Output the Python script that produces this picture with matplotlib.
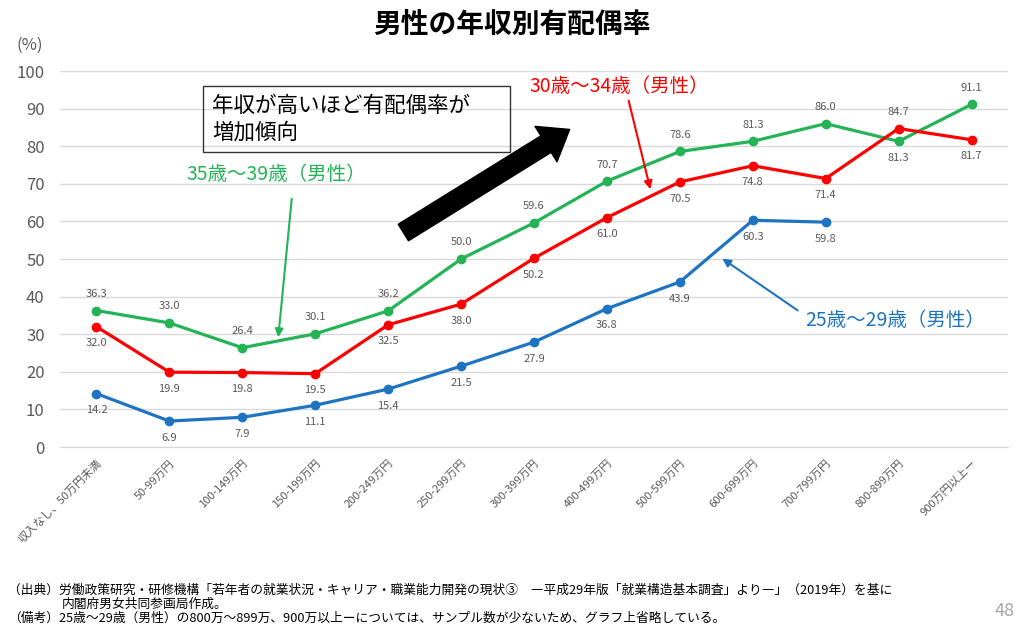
import matplotlib
matplotlib.use("Agg")
import matplotlib.pyplot as plt
from matplotlib.patches import Rectangle

plt.rcParams['font.family'] = ['Noto Sans CJK JP', 'DejaVu Sans']

# categories and values
categories = ["収入なし、50万円未満", "50-99万円", "100-149万円", "150-199万円",
              "200-249万円", "250-299万円", "300-399万円", "400-499万円",
              "500-599万円", "600-699万円", "700-799万円", "800-899万円",
              "900万円以上ー"]
age35_39 = [36.3, 33.0, 26.4, 30.1, 36.2, 50.0, 59.6, 70.7, 78.6, 81.3, 86.0, 81.3, 91.1]
age30_34 = [32.0, 19.9, 19.8, 19.5, 32.5, 38.0, 50.2, 61.0, 70.5, 74.8, 71.4, 84.7, 81.7]
age25_29 = [14.2, 6.9, 7.9, 11.1, 15.4, 21.5, 27.9, 36.8, 43.9, 60.3, 59.8]

GREEN = "#24b356"
RED = "#ff0000"
BLUE = "#1f74c1"
GRAY = "#595959"

W, H = 1024, 627
fig = plt.figure(figsize=(W / 100, H / 100), dpi=100)
ax = fig.add_axes([60 / W, 1 - 447 / H, (1008 - 60) / W, (447 - 71) / H])

x = list(range(len(categories)))

# label side: +1 above, -1 below
green_side = [1] * 13
green_side[11] = -1
red_side = [-1] * 13
red_side[11] = 1
blue_side = [-1] * 11

series = [
    (age35_39, GREEN, green_side),
    (age30_34, RED, red_side),
    (age25_29, BLUE, blue_side),
]
for vals, col, side in series:
    xs = x[:len(vals)]
    ax.plot(xs, vals, color=col, linewidth=2.3, marker="o", markersize=6, zorder=3)
    for xi, v, s in zip(xs, vals, side):
        ax.annotate(f"{v:.1f}", (xi, v), xytext=(0, 12 * s), textcoords="offset points",
                    ha="center", va="center", fontsize=8, color=GRAY)

ax.set_xlim(-0.5, 12.5)
ax.set_ylim(0, 100)
ax.set_yticks(range(0, 101, 10))
ax.grid(axis="y", color="#d9d9d9", linewidth=1)
ax.set_axisbelow(True)
for sp in ["top", "right", "left"]:
    ax.spines[sp].set_visible(False)
ax.spines["bottom"].set_color("#d9d9d9")
ax.tick_params(axis="y", length=0, labelsize=12, labelcolor=GRAY, pad=11)
ax.tick_params(axis="x", length=0, labelsize=8, labelcolor=GRAY, pad=8)
ax.set_xticks(x)
ax.set_xticklabels(categories, rotation=45, ha="right", rotation_mode="anchor")

fig.text(30 / W, 1 - 45 / H, "(%)", fontsize=12, color=GRAY, ha="center", va="center")

# title
fig.text(512 / W, 1 - 25 / H, "男性の年収別有配偶率", fontsize=20, fontweight="bold",
         ha="center", va="center")

# message box
fig.patches.append(Rectangle((203 / W, 1 - 152 / H), (510 - 203) / W, (152 - 86) / H,
                             transform=fig.transFigure, fill=False, edgecolor="#333333",
                             linewidth=1))
fig.text(212 / W, 1 - 119 / H, "年収が高いほど有配偶率が\n増加傾向", fontsize=15.5,
         ha="left", va="center", linespacing=1.3)

# big black arrow
ax.annotate("", xy=(572, H - 128), xytext=(401, H - 234),
            xycoords="figure pixels", textcoords="figure pixels",
            arrowprops=dict(arrowstyle="simple,head_length=1.0,head_width=1.5,tail_width=0.7",
                            mutation_scale=20, fc="black", ec="black"))

# series callouts
fig.text(276 / W, 1 - 175 / H, "35歳～39歳（男性）", fontsize=14, color=GREEN,
         ha="center", va="center")
ax.annotate("", xy=(278, H - 340), xytext=(292, H - 196),
            xycoords="figure pixels", textcoords="figure pixels",
            arrowprops=dict(arrowstyle="-|>", color=GREEN, lw=1.5, mutation_scale=12))

fig.text(619 / W, 1 - 87 / H, "30歳～34歳（男性）", fontsize=14, color=RED,
         ha="center", va="center")
ax.annotate("", xy=(651, H - 192), xytext=(628, H - 98),
            xycoords="figure pixels", textcoords="figure pixels",
            arrowprops=dict(arrowstyle="-|>", color=RED, lw=1.5, mutation_scale=12))

fig.text(895 / W, 1 - 320 / H, "25歳～29歳（男性）", fontsize=14, color=BLUE,
         ha="center", va="center")
ax.annotate("", xy=(720, H - 257), xytext=(800, H - 312),
            xycoords="figure pixels", textcoords="figure pixels",
            arrowprops=dict(arrowstyle="-|>", color=BLUE, lw=1.5, mutation_scale=12))

# footnotes
fig.text(8 / W, 1 - 590 / H,
         "（出典）労働政策研究・研修機構「若年者の就業状況・キャリア・職業能力開発の現状③　―平成29年版「就業構造基本調査」より―」（2019年）を基に",
         fontsize=9.2, ha="left", va="center")
fig.text(62 / W, 1 - 604 / H, "内閣府男女共同参画局作成。", fontsize=9.2, ha="left", va="center")
fig.text(8 / W, 1 - 618 / H,
         "（備考）25歳～29歳（男性）の800万～899万、900万以上ーについては、サンプル数が少ないため、グラフ上省略している。",
         fontsize=9.2, ha="left", va="center")
fig.text(1005 / W, 1 - 611 / H, "48", fontsize=13, color="#a6a6a6", ha="center", va="center")

fig.savefig("out.png", dpi=100)
